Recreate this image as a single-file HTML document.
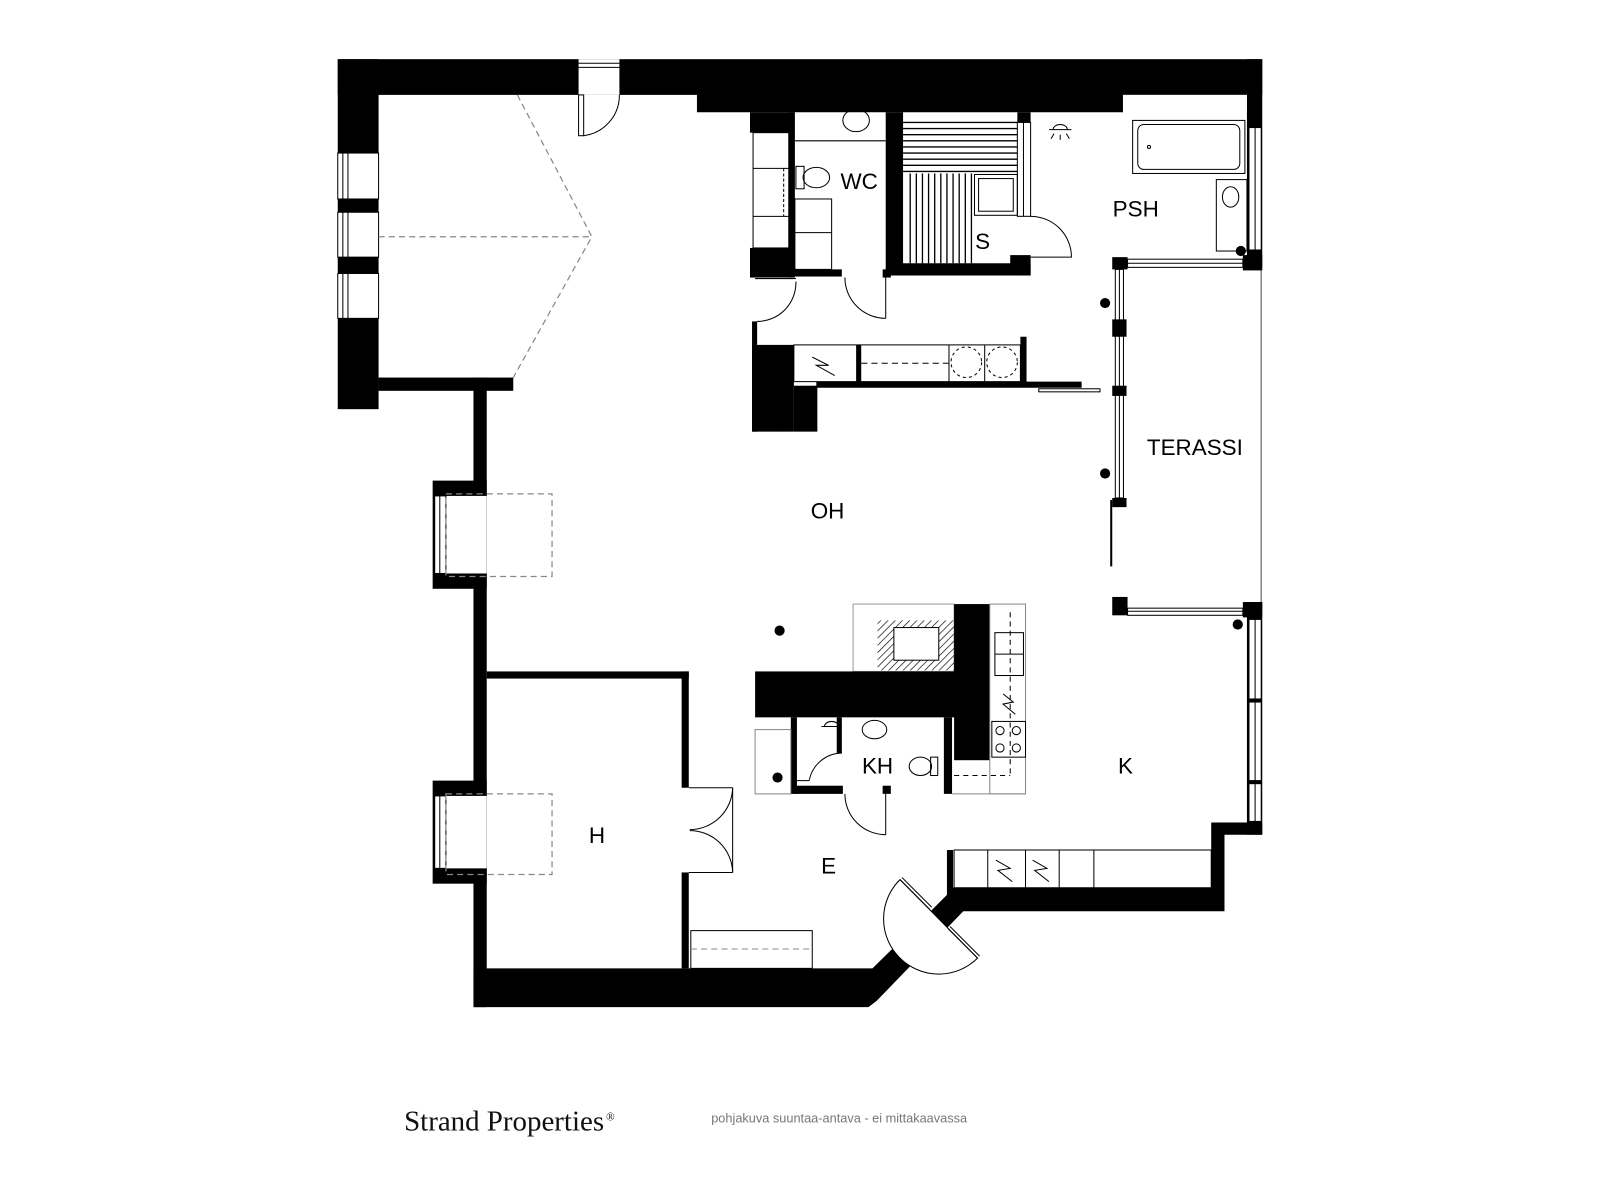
<!DOCTYPE html>
<html><head><meta charset="utf-8"><style>
html,body{margin:0;padding:0;background:#fff}
svg{display:block}
text{font-family:"Liberation Sans",sans-serif}
</style></head><body>
<svg width="1600" height="1200" viewBox="0 0 1568 1176" xmlns="http://www.w3.org/2000/svg">
<rect width="1568" height="1176" fill="#fff"/>
<g fill="#000">
<rect x="331" y="58" width="906" height="35"/>
<rect x="683" y="90" width="417" height="20"/>
<rect x="331" y="58" width="40" height="343"/>
<rect x="371" y="370" width="132" height="13"/>
<rect x="1222" y="58" width="15" height="204"/>
<rect x="464" y="370" width="13" height="617"/>
<rect x="424" y="471" width="53" height="106"/>
<rect x="424" y="765" width="53" height="101"/>
<polygon points="464,949 855,949 913,892 928,877 928,833 934,833 934,870 1187,870 1187,806 1237,806 1237,818 1200,818 1200,893 944,893 859,981 851,987 464,987"/>
<rect x="1222" y="590" width="15" height="228"/>
</g>
<!-- bottom door -->
<path d="M882,862 A54,54 0 0 0 958,939 Z" fill="#fff" stroke="#000" stroke-width="1"/>
<g stroke="#000" stroke-width="1" fill="none">
<path d="M882,862 L911,891 M884,860 L913,889"/>
<path d="M929,910 L958,939 M931,908 L960,937"/>
</g>
<rect x="567" y="58" width="40" height="35" fill="#fff"/>
<g fill="none" stroke="#000" stroke-width="1">
<line x1="567" y1="62" x2="607" y2="62"/><line x1="567" y1="66" x2="607" y2="66"/>
<rect x="567" y="93" width="5" height="40"/>
<path d="M572,133 A40,40 0 0 0 607,93"/>
</g>
<g fill="#fff" stroke="#000" stroke-width="1">
<rect x="331" y="150" width="40" height="45"/><rect x="331" y="208" width="40" height="44"/><rect x="331" y="268" width="40" height="44"/>
<rect x="426" y="486" width="51" height="76" stroke="none"/>
<rect x="426" y="780" width="51" height="71" stroke="none"/>
</g>
<g stroke="#000" stroke-width="1">
<line x1="336" y1="150" x2="336" y2="195"/><line x1="341" y1="150" x2="341" y2="195"/>
<line x1="336" y1="208" x2="336" y2="252"/><line x1="341" y1="208" x2="341" y2="252"/>
<line x1="336" y1="268" x2="336" y2="312"/><line x1="341" y1="268" x2="341" y2="312"/>
<rect x="426" y="486" width="11" height="76" fill="none"/><line x1="431" y1="486" x2="431" y2="562"/>
<rect x="426" y="780" width="11" height="71" fill="none"/><line x1="431" y1="780" x2="431" y2="851"/>
</g>
<g fill="none" stroke="#888" stroke-width="1.2" stroke-dasharray="6,4">
<polyline points="507,93 580,232 503,370"/>
<line x1="371" y1="232" x2="580" y2="232"/>
<rect x="437" y="484" width="104" height="81"/>
<rect x="437" y="778" width="104" height="79"/>
</g>
<g fill="#fff" stroke="#000" stroke-width="1">
<rect x="1224" y="125" width="12" height="120"/>
<rect x="1224" y="607" width="12" height="78"/><rect x="1224" y="688" width="12" height="77"/><rect x="1224" y="768" width="12" height="37"/>
</g>
<g stroke="#000"><line x1="1230" y1="125" x2="1230" y2="245"/><line x1="1230" y1="607" x2="1230" y2="805"/></g>
<rect x="1100" y="93" width="122" height="17" fill="#fff"/>
<line x1="1100" y1="93" x2="1100" y2="110" stroke="#000"/>
<line x1="1236" y1="262" x2="1236" y2="590" stroke="#888" stroke-width="1.5"/>
<g fill="#000">
<rect x="1090" y="252" width="15" height="12"/><rect x="1218" y="250" width="19" height="15"/>
<rect x="1090" y="313" width="14" height="17"/><rect x="1090" y="378" width="14" height="10"/><rect x="1090" y="488" width="14" height="9"/>
<rect x="1090" y="585" width="15" height="18"/><rect x="1218" y="590" width="19" height="15"/>
<circle cx="1083" cy="297" r="5"/><circle cx="1083" cy="464" r="5"/><circle cx="1216" cy="246" r="5"/><circle cx="1213" cy="612" r="5"/>
<circle cx="764" cy="618" r="5"/><circle cx="762" cy="762" r="5"/><circle cx="761" cy="418" r="5"/>
</g>
<g fill="none" stroke="#000" stroke-width="1">
<rect x="1105" y="254" width="113" height="8"/><line x1="1105" y1="258" x2="1218" y2="258"/>
<rect x="1093" y="264" width="8" height="224"/><line x1="1097" y1="264" x2="1097" y2="488"/>
<rect x="1105" y="596" width="113" height="7"/><line x1="1105" y1="599" x2="1218" y2="599"/>
<line x1="1089" y1="490" x2="1089" y2="555" stroke-width="2"/>
</g>
<g fill="none" stroke="#000" stroke-width="1">
<rect x="1110" y="118" width="110" height="52"/><rect x="1115" y="122" width="100" height="44" rx="6"/>
<circle cx="1126" cy="144" r="1.5"/>
<rect x="1192" y="176" width="30" height="70"/><ellipse cx="1206" cy="193" rx="8" ry="10"/>
<path d="M1028,127 h22 M1032,127 a7,5 0 0 1 14,0 M1033,131 l-3,5 M1039,132 v5 M1045,131 l3,5"/>
</g>
<g fill="#000">
<rect x="735" y="110" width="43" height="20"/><rect x="735" y="243" width="43" height="29"/>
<rect x="773" y="110" width="6" height="162"/>
<rect x="778" y="264" width="47" height="7"/><rect x="865" y="264" width="8" height="8"/>
<rect x="868" y="110" width="17" height="160"/>
<rect x="873" y="258" width="137" height="12"/><rect x="990" y="250" width="20" height="20"/>
<rect x="997" y="110" width="13" height="10"/>
</g>
<g fill="none" stroke="#000" stroke-width="1">
<rect x="738" y="130" width="35" height="113"/><line x1="738" y1="165" x2="773" y2="165"/><line x1="738" y1="212" x2="773" y2="212"/>
<line x1="768" y1="165" x2="768" y2="212" stroke-dasharray="3,2"/>
<line x1="779" y1="138" x2="868" y2="138"/>
<ellipse cx="839" cy="118" rx="13" ry="11"/>
<rect x="780" y="163" width="8" height="22"/><ellipse cx="800" cy="174" rx="13" ry="10"/>
<rect x="779" y="195" width="36" height="69"/><line x1="779" y1="228" x2="815" y2="228"/>
<line x1="868" y1="270" x2="868" y2="312"/><path d="M868,312 A40,40 0 0 1 828,272"/>
<line x1="740" y1="273" x2="780" y2="273"/><path d="M742,315 A38,38 0 0 0 780,276"/>
</g>
<g stroke="#000" stroke-width="1.3" fill="none">
<line x1="885" y1="120" x2="997" y2="120"/><line x1="885" y1="126" x2="997" y2="126"/><line x1="885" y1="132" x2="997" y2="132"/><line x1="885" y1="138" x2="997" y2="138"/><line x1="885" y1="144" x2="997" y2="144"/><line x1="885" y1="150" x2="997" y2="150"/><line x1="885" y1="156" x2="997" y2="156"/><line x1="885" y1="162" x2="997" y2="162"/><line x1="885" y1="168" x2="997" y2="168"/>
<line x1="892" y1="170" x2="892" y2="258"/><line x1="898" y1="170" x2="898" y2="258"/><line x1="904" y1="170" x2="904" y2="258"/><line x1="910" y1="170" x2="910" y2="258"/><line x1="916" y1="170" x2="916" y2="258"/><line x1="922" y1="170" x2="922" y2="258"/><line x1="928" y1="170" x2="928" y2="258"/><line x1="934" y1="170" x2="934" y2="258"/><line x1="940" y1="170" x2="940" y2="258"/><line x1="946" y1="170" x2="946" y2="258"/><line x1="952" y1="170" x2="952" y2="258"/>
<rect x="955" y="171" width="42" height="40" stroke-width="1"/><rect x="959" y="175" width="34" height="32" stroke-width="1"/>
<rect x="997" y="120" width="13" height="92" stroke-width="1"/><line x1="1003" y1="120" x2="1003" y2="212" stroke-width="1"/>
<path d="M1010,212 A40,40 0 0 1 1050,252 L1010,252" stroke-width="1"/>
</g>
<g fill="#000">
<rect x="737" y="315" width="5" height="108"/><rect x="737" y="338" width="41" height="85"/><rect x="778" y="378" width="23" height="45"/>
<rect x="800" y="374" width="260" height="6"/><rect x="839" y="338" width="5" height="40"/><rect x="1000" y="330" width="6" height="48"/>
</g>
<g fill="none" stroke="#000" stroke-width="1">
<rect x="778" y="338" width="222" height="36"/><line x1="930" y1="338" x2="930" y2="374"/><line x1="965" y1="338" x2="965" y2="374"/>
<line x1="844" y1="356" x2="930" y2="356" stroke-dasharray="6,4"/>
<rect x="1018" y="381" width="60" height="3"/>
<circle cx="947" cy="355" r="15" stroke-dasharray="3,3"/><circle cx="982" cy="355" r="15" stroke-dasharray="3,3"/>
<polyline points="796,350 812,358 800,358 818,368"/>
</g>
<rect x="836" y="592" width="99" height="66" fill="none" stroke="#999"/>
<defs><pattern id="h" width="5" height="5" patternUnits="userSpaceOnUse" patternTransform="rotate(45)"><line x1="0" y1="0" x2="0" y2="5" stroke="#000" stroke-width="1.3"/></pattern></defs>
<rect x="860" y="608" width="75" height="49" fill="url(#h)"/>
<rect x="876" y="615" width="44" height="32" fill="#fff" stroke="#000"/>
<g fill="#000">
<rect x="935" y="592" width="35" height="153"/>
<rect x="740" y="658" width="230" height="45"/>
<rect x="775" y="703" width="6" height="75"/><rect x="778" y="770" width="48" height="8"/><rect x="865" y="770" width="8" height="8"/>
<rect x="925" y="703" width="8" height="75"/><rect x="820" y="703" width="5" height="35"/>
</g>
<g fill="none" stroke="#000" stroke-width="1">
<rect x="970" y="592" width="35" height="186" stroke="#888"/>
<rect x="975" y="620" width="28" height="42"/><line x1="975" y1="641" x2="1003" y2="641"/>
<rect x="972" y="707" width="33" height="35"/><circle cx="980" cy="716" r="4"/><circle cx="996" cy="716" r="4"/><circle cx="980" cy="733" r="4"/><circle cx="996" cy="733" r="4"/>
<polyline points="983,680 993,688 983,690 995,700"/>
<line x1="935" y1="760" x2="990" y2="760" stroke-dasharray="5,4"/><line x1="990" y1="600" x2="990" y2="760" stroke-dasharray="5,4"/>
<line x1="933" y1="778" x2="1005" y2="778" stroke="#888"/>
<rect x="740" y="715" width="35" height="63" stroke="#888"/>
<path d="M805,712 h20 M808,712 a7,5 0 0 1 14,0"/>
<ellipse cx="857" cy="715" rx="12" ry="9"/>
<rect x="912" y="742" width="7" height="18"/><ellipse cx="902" cy="751" rx="11" ry="9"/>
<path d="M793,765 A33,33 0 0 1 825,738"/><line x1="781" y1="765" x2="793" y2="765"/>
<line x1="868" y1="778" x2="868" y2="818"/><path d="M868,818 A40,40 0 0 1 828,778"/>
</g>
<g fill="#000">
<rect x="477" y="658" width="198" height="7"/>
<rect x="668" y="658" width="7" height="114"/><rect x="668" y="855" width="7" height="94"/>
</g>
<g fill="none" stroke="#000" stroke-width="1">
<line x1="675" y1="772" x2="718" y2="772"/><path d="M718,772 A42,42 0 0 1 676,813"/>
<line x1="675" y1="855" x2="718" y2="855"/><path d="M718,855 A42,42 0 0 0 676,814"/>
<line x1="718" y1="772" x2="718" y2="855"/>
<rect x="677" y="912" width="119" height="37"/>
<line x1="677" y1="930" x2="796" y2="930" stroke="#888" stroke-dasharray="6,4"/>
<rect x="935" y="833" width="252" height="37"/>
<line x1="968" y1="833" x2="968" y2="870"/><line x1="1005" y1="833" x2="1005" y2="870"/><line x1="1038" y1="833" x2="1038" y2="870"/><line x1="1072" y1="833" x2="1072" y2="870"/>
<polyline points="976,843 990,851 978,853 992,864"/><polyline points="1012,843 1026,851 1014,853 1028,864"/>
</g>
<g font-size="22" fill="#000" text-anchor="middle">
<text x="842" y="185">WC</text>
<text x="963" y="244">S</text>
<text x="1113" y="212">PSH</text>
<text x="1171" y="446">TERASSI</text>
<text x="811" y="508">OH</text>
<text x="1103" y="758">K</text>
<text x="860" y="758">KH</text>
<text x="585" y="826">H</text>
<text x="812" y="856">E</text>
</g>
<text x="396" y="1108" font-size="28" fill="#111" style="font-family:'Liberation Serif',serif" textLength="196" lengthAdjust="spacingAndGlyphs">Strand Properties</text>
<text x="594" y="1098" font-size="11" fill="#111" style="font-family:'Liberation Serif',serif">®</text>
<text x="697" y="1100" font-size="12.5" fill="#777">pohjakuva suuntaa-antava - ei mittakaavassa</text>
</svg>
</body></html>
